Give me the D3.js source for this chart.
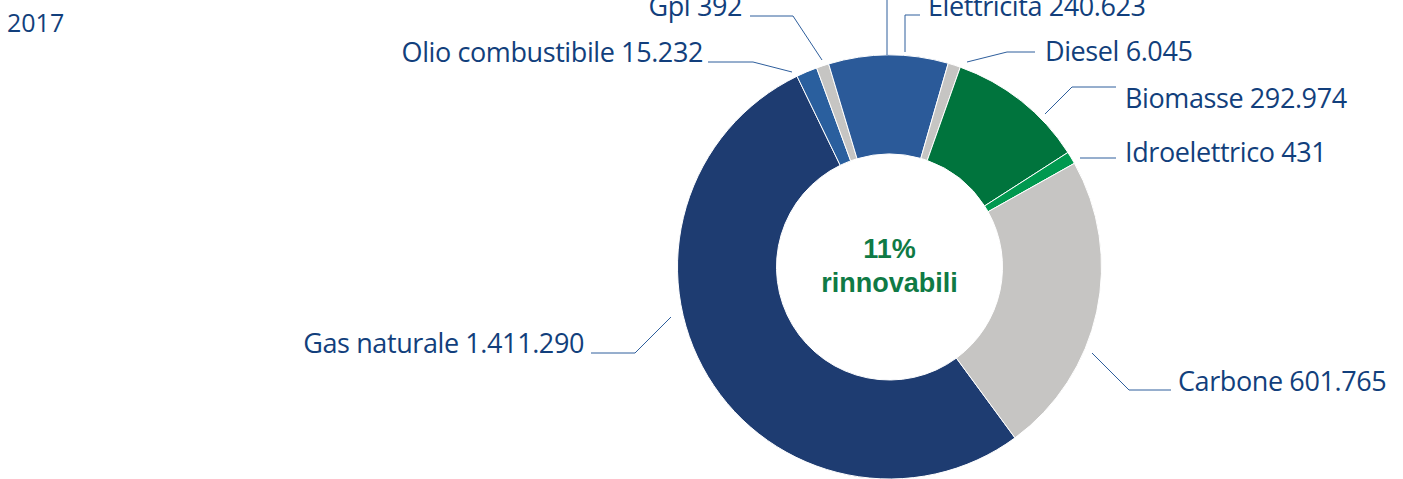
<!DOCTYPE html>
<html>
<head>
<meta charset="utf-8">
<script src="https://cdn.jsdelivr.net/npm/d3@7/dist/d3.min.js"></script>
<style>
  html, body { margin: 0; padding: 0; background: #ffffff; }
  svg { display: block; }
</style>
</head>
<body>
<svg id="chart" width="1403" height="479"></svg>
<script>
// ---- data ----
const categories = ["Gas naturale", "Olio combustibile", "Gpl", "Elettricità", "Diesel", "Biomasse", "Idroelettrico", "Carbone"];
const labelValues = ["1.411.290", "15.232", "392", "240.623", "6.045", "292.974", "431", "601.765"];
// share of the ring as drawn in the picture (%), small slices are enlarged in the original
const ringShare = [52.9, 1.6, 0.95, 9.1, 0.95, 10.5, 0.95, 23.05];
const renewableText = ["11%", "rinnovabili"];
const yearLabel = "2017";

// ---- styles / layout (not data) ----
const colors = ["#1e3c71", "#2a5f9e", "#c6c5c3", "#2b5a99", "#c6c5c3", "#00743d", "#00994f", "#c6c5c3"];
const textColor = "#123f7c";
const lineColor = "#2e5e9c";
const cx = 889.5, cy = 267, R = 212, r = 113;
const startDeg = 143.7;

// label layout: text anchor position + leader polyline
const labelLayout = [
  { x: 584, y: 353, anchor: "end",   line: [[671, 317], [635, 353], [591, 353]] },
  { x: 703, y: 62,  anchor: "end",   line: [[792, 72], [753, 62], [708, 62]] },
  { x: 742, y: 16,  anchor: "end",   line: [[822, 60], [793, 16], [750, 16]] },
  { x: 928, y: 16,  anchor: "start", line: [[905, 52], [905, 15], [920, 15]] },
  { x: 1045, y: 61, anchor: "start", line: [[967, 62], [1007, 52], [1035, 52]] },
  { x: 1125, y: 108, anchor: "start", line: [[1045, 114], [1072, 87], [1116, 87]] },
  { x: 1125, y: 162, anchor: "start", line: [[1080, 158], [1116, 158]] },
  { x: 1178, y: 391, anchor: "start", line: [[1092, 353], [1129, 390], [1171, 390]] }
];

const svg = d3.select("#chart");

const rows = categories.map((c, i) => ({ name: c, label: labelValues[i], share: ringShare[i], color: colors[i], layout: labelLayout[i] }));

const pie = d3.pie()
  .sort(null)
  .value(d => d.share)
  .startAngle(startDeg * Math.PI / 180)
  .endAngle(startDeg * Math.PI / 180 + 2 * Math.PI);

const arc = d3.arc().innerRadius(r).outerRadius(R);

const g = svg.append("g").attr("transform", `translate(${cx},${cy})`);
g.selectAll("path.slice")
  .data(pie(rows))
  .join("path")
  .attr("class", "slice")
  .attr("d", arc)
  .attr("fill", d => d.data.color)
  .attr("stroke", "#ffffff")
  .attr("stroke-width", 1);

// leader lines
const lineGen = d3.line();
svg.selectAll("path.leader")
  .data(rows)
  .join("path")
  .attr("class", "leader")
  .attr("d", d => lineGen(d.layout.line))
  .attr("fill", "none")
  .attr("stroke", lineColor)
  .attr("stroke-width", 1);

// extra leader line going off the top (label outside the frame)
svg.append("path")
  .attr("d", lineGen([[887, 55], [887, 0]]))
  .attr("fill", "none")
  .attr("stroke", lineColor)
  .attr("stroke-width", 1);

// labels
svg.selectAll("text.lbl")
  .data(rows)
  .join("text")
  .attr("class", "lbl")
  .attr("x", d => d.layout.x)
  .attr("y", d => d.layout.y)
  .attr("text-anchor", d => d.layout.anchor)
  .attr("font-family", "'Open Sans', 'Noto Sans', sans-serif")
  .attr("font-size", 27)
  .attr("letter-spacing", -0.4)
  .attr("fill", textColor)
  .text(d => `${d.name} ${d.label}`);

// year
svg.append("text")
  .attr("x", 7).attr("y", 32)
  .attr("font-family", "'Open Sans', 'Noto Sans', sans-serif")
  .attr("font-size", 25)
  .attr("fill", textColor)
  .text(yearLabel);

// center text
svg.selectAll("text.center")
  .data(renewableText)
  .join("text")
  .attr("class", "center")
  .attr("x", cx)
  .attr("y", (d, i) => 258 + i * 34)
  .attr("text-anchor", "middle")
  .attr("font-family", "'Liberation Sans', Arial, sans-serif")
  .attr("font-weight", "bold")
  .attr("font-size", 27)
  .attr("fill", "#0f7a45")
  .text(d => d);
</script>
</body>
</html>
